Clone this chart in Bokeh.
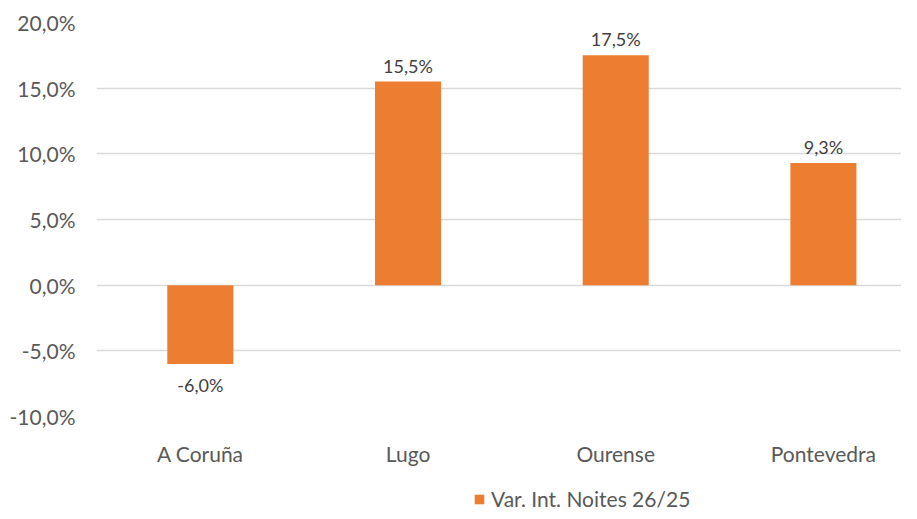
from bokeh.plotting import figure
from bokeh.layouts import column
from bokeh.models import ColumnDataSource, Range1d, FixedTicker, Legend, LegendItem
from bokeh.embed import file_html
from bokeh.resources import INLINE

# ---- data ----
categories = ["A Coruña", "Lugo", "Ourense", "Pontevedra"]
values = [-6.0, 15.5, 17.5, 9.3]
value_labels = ["-6,0%", "15,5%", "17,5%", "9,3%"]
y_ticks = [-10, -5, 0, 5, 10, 15, 20]
y_tick_labels = ["-10,0%", "-5,0%", "0,0%", "5,0%", "10,0%", "15,0%", "20,0%"]
series_name = "Var. Int. Noites 26/25"

FONT = "Lato"
BAR = "#ED7D31"

xs = [i + 0.5 for i in range(len(categories))]
src = ColumnDataSource(dict(
    x=xs, top=values, lab=value_labels,
    yoff=[21 if v < 0 else -16 for v in values],
))

X_END = 3.876

p = figure(width=901, height=480, output_backend="svg", toolbar_location=None,
           x_range=Range1d(0, X_END), y_range=Range1d(-10, 20),
           min_border_left=96, min_border_right=0, min_border_top=22,
           min_border_bottom=64)
p.outline_line_color = None
p.background_fill_color = "white"
p.border_fill_color = "white"

bars = p.vbar(x="x", top="top", bottom=0, width=0.318, source=src,
              fill_color=BAR, line_color=None)

p.text(x="x", y="top", text="lab", source=src, y_offset="yoff",
       text_align="center", text_baseline="middle",
       text_font={"value": FONT}, text_font_size="18px", text_color="#404040")

# y axis
p.yaxis.ticker = FixedTicker(ticks=y_ticks)
p.yaxis.major_label_overrides = {t: l for t, l in zip(y_ticks, y_tick_labels)}
p.yaxis.axis_line_color = None
p.yaxis.major_tick_line_color = None
p.yaxis.minor_tick_line_color = None
p.yaxis.major_label_standoff = 15
p.yaxis.major_label_text_font = FONT
p.yaxis.major_label_text_font_size = "21px"
p.yaxis.major_label_text_color = "#595959"

# x axis
p.xaxis.ticker = FixedTicker(ticks=xs)
p.xaxis.major_label_overrides = {x: c for x, c in zip(xs, categories)}
p.xaxis.axis_line_color = None
p.xaxis.major_tick_line_color = None
p.xaxis.minor_tick_line_color = None
p.xaxis.major_label_standoff = 18
p.xaxis.major_label_text_font = FONT
p.xaxis.major_label_text_font_size = "21px"
p.xaxis.major_label_text_color = "#595959"

p.xgrid.grid_line_color = None
p.ygrid.grid_line_color = "#d9d9d9"
p.ygrid.grid_line_width = 1.5

# ---- legend strip (separate small svg figure under the chart) ----
leg = figure(width=901, height=31, output_backend="svg", toolbar_location=None,
             x_range=Range1d(0, X_END), y_range=Range1d(100, 101),
             min_border=0, x_axis_type=None, y_axis_type=None)
leg.outline_line_color = None
leg.xgrid.visible = False
leg.ygrid.visible = False
leg_bars = leg.vbar(x="x", top="top", bottom=0, width=0.318, source=src,
                    fill_color=BAR, line_color=None)
lg = Legend(items=[LegendItem(label=series_name, renderers=[leg_bars])],
            location=(377, 0), orientation="horizontal",
            padding=0, margin=0, spacing=0,
            border_line_alpha=0, background_fill_alpha=0,
            glyph_width=12, glyph_height=12, label_standoff=6, label_height=21,
            label_text_font=FONT, label_text_font_size="21px",
            label_text_color="#595959")
leg.add_layout(lg, "center")

layout = column(p, leg, spacing=0)
open("out.html", "w").write(file_html(layout, INLINE))
